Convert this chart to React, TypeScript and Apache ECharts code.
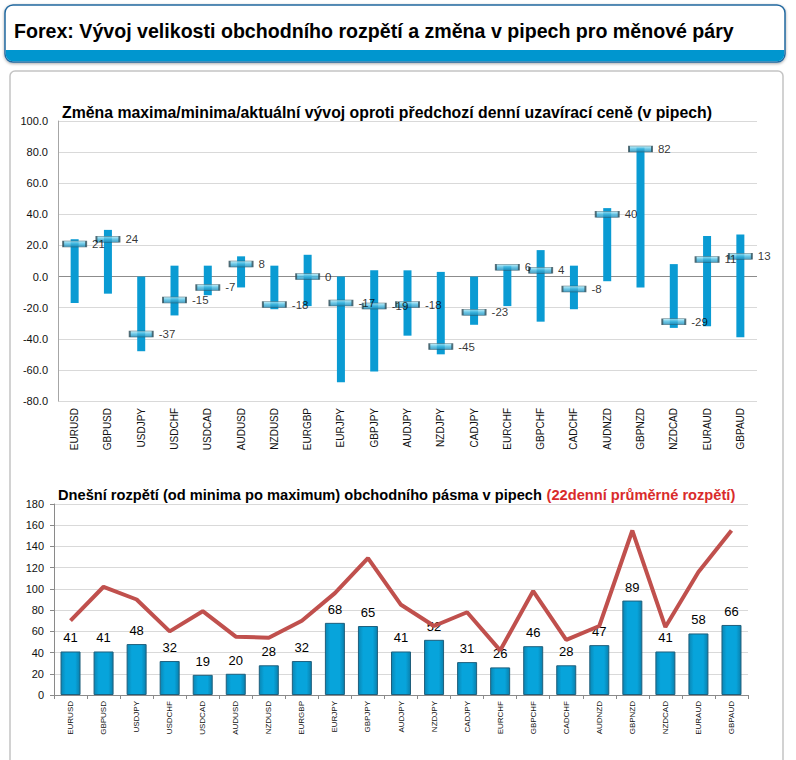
import React, { useEffect, useRef } from "react";
import * as echarts from "echarts";

const pairs = ["EURUSD", "GBPUSD", "USDJPY", "USDCHF", "USDCAD", "AUDUSD", "NZDUSD", "EURGBP", "EURJPY", "GBPJPY", "AUDJPY", "NZDJPY", "CADJPY", "EURCHF", "GBPCHF", "CADCHF", "AUDNZD", "GBPNZD", "NZDCAD", "EURAUD", "GBPAUD"];
const changeHigh = [24, 30, 0, 7, 7, 13, 7, 14, 0, 4, 4, 3, 0, 7, 17, 7, 44, 83, 8, 26, 27];
const changeLow = [-17, -11, -48, -25, -12, -7, -21, -19, -68, -61, -38, -50, -31, -19, -29, -21, -3, -7, -33, -32, -39];
const changeNow = [21, 24, -37, -15, -7, 8, -18, 0, -17, -19, -18, -45, -23, 6, 4, -8, 40, 82, -29, 11, 13];
const rangeToday = [41, 41, 48, 32, 19, 20, 28, 32, 68, 65, 41, 52, 31, 26, 46, 28, 47, 89, 41, 58, 66];
const range22 = [70, 102, 90, 60, 79, 55, 54, 70, 96, 129, 85, 65, 78, 42, 98, 52, 65, 155, 64, 116, 155];
const topTicks = { min: -80, max: 100, interval: 20 };
const bottomTicks = { min: 0, max: 180, interval: 20 };

const headerTitle = "Forex: Vývoj velikosti obchodního rozpětí a změna v pipech pro měnové páry";
const topTitle = "Změna maxima/minima/aktuální vývoj oproti předchozí denní uzavírací ceně (v pipech)";
const bottomTitleBlack = "Dnešní rozpětí (od minima po maximum) obchodního pásma v pipech ";
const bottomTitleRed = "(22denní průměrné rozpětí)";

const FONT = '"Liberation Sans", Arial, sans-serif';

export default function App() {
  const ref = useRef<HTMLDivElement>(null);
  useEffect(() => {
    if (!ref.current) return;
    const chart = echarts.init(ref.current, null, { renderer: "svg" });
    const rangeData = pairs.map((_, i) => [i, changeLow[i], changeHigh[i]]);
    const nowData = pairs.map((_, i) => [i, changeNow[i]]);
    const topSplitColors: string[] = [];
    for (let v = topTicks.min; v <= topTicks.max; v += topTicks.interval) {
      topSplitColors.push(v === 0 ? "#8c8c8c" : "#d9d9d9");
    }
    const option: any = {
      animation: false,
      backgroundColor: "#ffffff",
      textStyle: { fontFamily: FONT },
      graphic: [
        {
          type: "rect",
          shape: { x: 10, y: 71, width: 773, height: 720, r: 5 },
          style: { fill: "none", stroke: "#c4c4c4", lineWidth: 1.5 },
        },
        {
          type: "rect",
          shape: { x: 5, y: 5, width: 780, height: 57, r: 8 },
          style: { fill: "#ffffff", stroke: "#2369a0", lineWidth: 1.5, shadowBlur: 3, shadowColor: "rgba(0,0,0,0.35)", shadowOffsetY: 1 },
        },
        {
          type: "rect",
          shape: { x: 5.75, y: 50, width: 778.5, height: 11.25, r: [0, 0, 7, 7] },
          style: { fill: "#0096cf" },
        },
        {
          type: "text",
          x: 14,
          y: 31,
          scaleX: 0.98,
          style: { text: headerTitle, fontSize: 20, fontWeight: "bold", fontFamily: FONT, fill: "#000", verticalAlign: "middle", textAlign: "left" },
        },
        {
          type: "text",
          x: 62,
          y: 112,
          scaleX: 0.99,
          style: { text: topTitle, fontSize: 16, fontWeight: "bold", fontFamily: FONT, fill: "#000", verticalAlign: "middle", textAlign: "left" },
        },
        {
          type: "text",
          x: 58,
          y: 495,
          scaleX: 0.977,
          style: {
            text: bottomTitleBlack + "{r|" + bottomTitleRed + "}",
            fontSize: 15,
            fontWeight: "bold",
            fontFamily: FONT,
            fill: "#000",
            verticalAlign: "middle",
            textAlign: "left",
            rich: { r: { fill: "#d92b2b", fontSize: 15, fontWeight: "bold", fontFamily: FONT } },
          },
        },
      ],
      grid: [
        { left: 58, top: 121, width: 699, height: 280 },
        { left: 54, top: 504, width: 694, height: 191 },
      ],
      xAxis: [
        {
          type: "category",
          gridIndex: 0,
          data: pairs,
          axisLine: { show: false },
          axisTick: { show: false },
          axisLabel: { rotate: 90, fontSize: 10, color: "#111", margin: 7, fontFamily: FONT },
        },
        {
          type: "category",
          gridIndex: 1,
          data: pairs,
          axisLine: { show: true, lineStyle: { color: "#8a8a8a" } },
          axisTick: { show: true, length: 4, lineStyle: { color: "#8a8a8a" } },
          axisLabel: { rotate: 90, fontSize: 8, color: "#111", margin: 6, fontFamily: FONT },
        },
      ],
      yAxis: [
        {
          type: "value",
          gridIndex: 0,
          min: topTicks.min,
          max: topTicks.max,
          interval: topTicks.interval,
          axisLine: { show: true, lineStyle: { color: "#a6a6a6" } },
          axisTick: { show: false },
          splitLine: { show: true, lineStyle: { color: topSplitColors } },
          axisLabel: { fontSize: 11, color: "#111", margin: 10, formatter: (v: number) => v.toFixed(1), fontFamily: FONT },
        },
        {
          type: "value",
          gridIndex: 1,
          min: bottomTicks.min,
          max: bottomTicks.max,
          interval: bottomTicks.interval,
          axisLine: { show: true, lineStyle: { color: "#8a8a8a" } },
          axisTick: { show: true, length: 4, lineStyle: { color: "#8a8a8a" } },
          splitLine: { show: true, lineStyle: { color: "#d9d9d9" } },
          axisLabel: { fontSize: 11, color: "#111", margin: 10, fontFamily: FONT },
        },
      ],
      series: [
        {
          type: "custom",
          xAxisIndex: 0,
          yAxisIndex: 0,
          data: rangeData,
          encode: { x: 0, y: [1, 2] },
          z: 3,
          renderItem: (params: any, api: any) => {
            const x = api.value(0);
            const lo = api.coord([x, api.value(1)]);
            const hi = api.coord([x, api.value(2)]);
            const w = 8;
            return {
              type: "rect",
              shape: { x: lo[0] - w / 2, y: hi[1], width: w, height: lo[1] - hi[1] },
              style: { fill: "#0a9bd3" },
            };
          },
        },
        {
          type: "scatter",
          xAxisIndex: 0,
          yAxisIndex: 0,
          data: nowData,
          z: 4,
          symbol: "rect",
          symbolSize: [23, 6],
          itemStyle: {
            color: new echarts.graphic.LinearGradient(0, 0, 0, 1, [
              { offset: 0, color: "#b6ecf8" },
              { offset: 0.5, color: "#45b9e0" },
              { offset: 1, color: "#1d86b2" },
            ]),
            borderColor: "#2e4c58",
            borderWidth: 1,
          },
          label: {
            show: true,
            position: "right",
            distance: 5,
            fontSize: 11.5,
            color: "#000",
            fontFamily: FONT,
            formatter: (p: any) => String(p.value[1]),
          },
        },
        {
          type: "bar",
          xAxisIndex: 1,
          yAxisIndex: 1,
          data: rangeToday,
          barWidth: 20,
          itemStyle: {
            color: new echarts.graphic.LinearGradient(0, 0, 1, 0, [
              { offset: 0, color: "#0a86b4" },
              { offset: 0.25, color: "#07a4db" },
              { offset: 0.75, color: "#07a4db" },
              { offset: 1, color: "#0a7fac" },
            ]),
            borderColor: "#1f5f7c",
            borderWidth: 1,
          },
          label: { show: true, position: "top", distance: 7, fontSize: 13, color: "#000", fontFamily: FONT },
        },
        {
          type: "line",
          xAxisIndex: 1,
          yAxisIndex: 1,
          data: range22,
          showSymbol: false,
          symbol: "none",
          z: 5,
          lineStyle: { color: "#c0504d", width: 4 },
        },
      ],
    };
    chart.setOption(option);
    return () => chart.dispose();
  }, []);
  return <div ref={ref} style={{ position: "absolute", left: 0, top: 0, width: 796, height: 760 }} />;
}
